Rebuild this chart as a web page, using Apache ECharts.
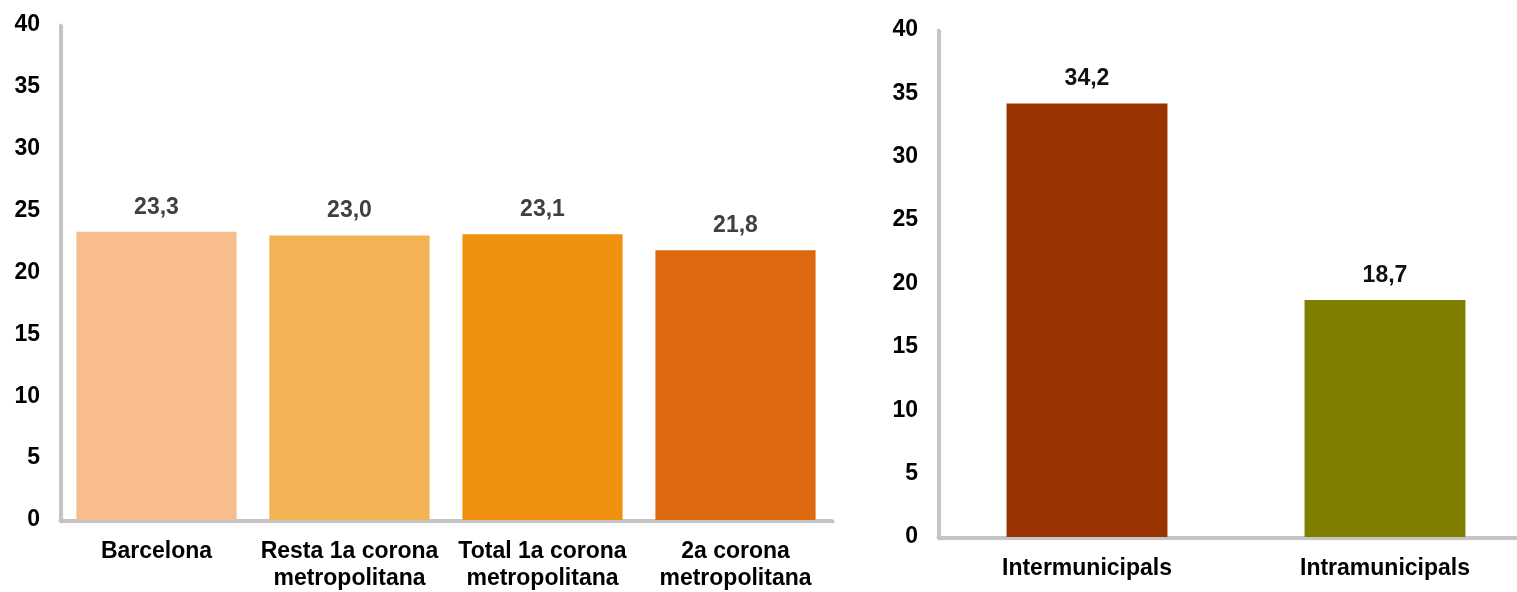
<!DOCTYPE html>
<html>
<head>
<meta charset="utf-8">
<script src="https://cdn.jsdelivr.net/npm/echarts@6/dist/echarts.min.js"></script>
<style>
  html, body { margin: 0; padding: 0; background: #fff; overflow: hidden; }
  #chart { width: 1540px; height: 592px; }
</style>
</head>
<body>
<div id="chart"></div>
<script>
// dades: àmbit de residència
var zonaCategories = ['Barcelona', 'Resta 1a corona\nmetropolitana', 'Total 1a corona\nmetropolitana', '2a corona\nmetropolitana'];
var zonaValues = [23.3, 23.0, 23.1, 21.8];
var zonaColors = ['#F8BD8C', '#F3B254', '#EF910E', '#DC6810'];

// dades: tipus de desplaçament
var tipusCategories = ['Intermunicipals', 'Intramunicipals'];
var tipusValues = [34.2, 18.7];
var tipusColors = ['#993300', '#808000'];

var font = '"Liberation Sans", Arial, sans-serif';

var myChart = echarts.init(document.getElementById('chart'));

var axisLine = {
    show: true,
    lineStyle: {
        color: '#c4c4c4',
        width: 3,
        shadowColor: 'rgba(0,0,0,0.25)',
        shadowOffsetX: 1,
        shadowOffsetY: 1,
        shadowBlur: 1
    }
};

function yAxis(gridIndex) {
    return {
        type: 'value',
        gridIndex: gridIndex,
        min: 0,
        max: 40,
        interval: 5,
        axisLine: axisLine,
        axisTick: { show: false },
        splitLine: { show: false },
        axisLabel: {
            color: '#000',
            fontFamily: font,
            fontWeight: 'bold',
            fontSize: 23,
            margin: 20
        }
    };
}

function xAxis(gridIndex, cats) {
    return {
        type: 'category',
        gridIndex: gridIndex,
        data: cats,
        axisLine: axisLine,
        axisTick: { show: false },
        axisLabel: {
            color: '#000',
            fontFamily: font,
            fontWeight: 'bold',
            fontSize: 23,
            lineHeight: 27,
            margin: 18,
            interval: 0
        }
    };
}

function fmt(p) {
    return p.value.toFixed(1).replace('.', ',');
}

var option = {
    animation: false,
    grid: [
        { left: 60, top: 25, width: 772, height: 497 },
        { left: 938, top: 30, width: 596, height: 507 }
    ],
    xAxis: [xAxis(0, zonaCategories), xAxis(1, tipusCategories)],
    yAxis: [yAxis(0), yAxis(1)],
    series: [
        {
            type: 'bar',
            xAxisIndex: 0,
            yAxisIndex: 0,
            barCategoryGap: '17%',
            data: zonaValues.map(function (v, i) {
                return { value: v, itemStyle: { color: zonaColors[i] } };
            }),
            label: {
                show: true,
                position: 'top',
                distance: 13,
                color: '#404040',
                fontFamily: font,
                fontWeight: 'bold',
                fontSize: 23,
                formatter: fmt
            }
        },
        {
            type: 'bar',
            xAxisIndex: 1,
            yAxisIndex: 1,
            barCategoryGap: '46%',
            data: tipusValues.map(function (v, i) {
                return { value: v, itemStyle: { color: tipusColors[i] } };
            }),
            label: {
                show: true,
                position: 'top',
                distance: 13,
                color: '#111',
                fontFamily: font,
                fontWeight: 'bold',
                fontSize: 23,
                formatter: fmt
            }
        }
    ]
};

myChart.setOption(option);
</script>
</body>
</html>
